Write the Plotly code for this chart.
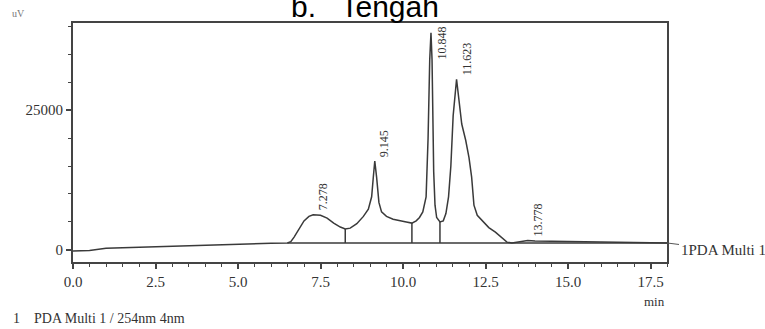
import plotly.graph_objects as go

# ---- data ----
time_min = [0.0, 0.5, 1.0, 2.0, 3.0, 4.0, 5.0, 6.0, 6.5, 6.6, 6.7, 6.85, 7.0, 7.15, 7.278,
            7.5, 7.7, 7.9, 8.1, 8.25, 8.4, 8.6, 8.8, 8.95, 9.05, 9.1, 9.145, 9.2, 9.27,
            9.35, 9.5, 9.7, 9.9, 10.1, 10.27, 10.4, 10.5, 10.6, 10.7, 10.76, 10.81, 10.848,
            10.88, 10.93, 10.97, 11.02, 11.12, 11.22, 11.3, 11.38, 11.45, 11.52, 11.623,
            11.7, 11.78, 11.9, 12.0, 12.08, 12.15, 12.25, 12.4, 12.6, 12.8, 13.0, 13.15,
            13.3, 13.5, 13.778, 14.0, 14.5, 15.0, 16.0, 17.0, 18.0]
signal_uv = [-200, -100, 300, 500, 700, 900, 1100, 1200, 1250, 1500, 2300, 3800, 5200, 6000, 6300,
             6200, 5700, 4800, 4100, 3750, 3900, 4700, 6000, 7300, 9500, 13000, 15900, 13000, 8500,
             6800, 6000, 5500, 5200, 5000, 4800, 5200, 5800, 6800, 9500, 20000, 34000, 38800,
             34000, 14000, 8000, 5800, 5000, 5200, 6500, 9500, 15000, 24000, 30500,
             26500, 22500, 19600, 16500, 13000, 8000, 6200, 5200, 4000, 3200, 2200, 1400,
             1250, 1400, 1700, 1600, 1550, 1500, 1350, 1300, 1250]

peak_times = [7.278, 9.145, 10.848, 11.623, 13.778]
peak_labels = ["7.278", "9.145", "10.848", "11.623", "13.778"]

baseline_times = [6.5, 18.0]
baseline_values = [1250, 1250]

drop_times = [8.25, 10.27, 11.12]

x_ticks = [0.0, 2.5, 5.0, 7.5, 10.0, 12.5, 15.0, 17.5]
y_ticks = [0, 25000]

# ---- figure ----
LINE = "#3a3a3a"
SERIF = "Liberation Serif"
Y_MIN, Y_MAX = -2150, 40550

fig = go.Figure()

fig.add_trace(go.Scatter(x=time_min, y=signal_uv, mode="lines",
                         line=dict(color=LINE, width=1.5), hoverinfo="skip"))
fig.add_trace(go.Scatter(x=baseline_times, y=baseline_values, mode="lines",
                         line=dict(color=LINE, width=1.5), hoverinfo="skip"))

base_level = baseline_values[0]
for t in drop_times:
    v = signal_uv[time_min.index(t)]
    fig.add_trace(go.Scatter(x=[t, t], y=[base_level, v], mode="lines",
                             line=dict(color=LINE, width=1.5), hoverinfo="skip"))

annotations = []
for t, lab in zip(peak_times, peak_labels):
    v = signal_uv[time_min.index(t)]
    if v > 0.85 * Y_MAX:
        annotations.append(dict(x=t, y=Y_MAX, xref="x", yref="y", text=lab, showarrow=False,
                                textangle=-90, xanchor="left", yanchor="top", xshift=2, yshift=-1,
                                font=dict(family=SERIF, size=12, color="#333")))
    else:
        annotations.append(dict(x=t, y=v, xref="x", yref="y", text=lab, showarrow=False,
                                textangle=-90, xanchor="left", yanchor="bottom", xshift=1, yshift=2,
                                font=dict(family=SERIF, size=12, color="#333")))

# channel label with leader line at the right end of the trace
annotations.append(dict(x=18.0, y=base_level, xref="x", yref="y", text="1PDA Multi 1",
                        showarrow=True, arrowhead=0, arrowwidth=1, arrowcolor="#555",
                        ax=56, ay=7, xanchor="center",
                        font=dict(family=SERIF, size=15, color="#333")))

annotations += [
    dict(x=0.5, y=1.07, xref="paper", yref="paper", text="b.\u00a0\u00a0 Tengah", showarrow=False,
         xanchor="center", yanchor="middle", xshift=-5,
         font=dict(family="Liberation Sans", size=30, color="black")),
    dict(x=-0.106, y=1.04, xref="paper", yref="paper", text="uV", showarrow=False,
         xanchor="left", yanchor="middle", font=dict(family=SERIF, size=10, color="#777")),
    dict(x=1.0, y=-0.125, xref="paper", yref="paper", text="min", showarrow=False,
         xanchor="right", yanchor="top", font=dict(family=SERIF, size=13, color="#333")),
    dict(x=-0.105, y=-0.195, xref="paper", yref="paper",
         text="1\u00a0\u00a0\u00a0 PDA Multi 1 / 254nm 4nm", showarrow=False,
         xanchor="left", yanchor="top", font=dict(family=SERIF, size=14, color="#333")),
]

fig.update_layout(
    width=765, height=329,
    margin=dict(l=73, r=98, t=23, b=67),
    paper_bgcolor="white", plot_bgcolor="white",
    showlegend=False,
    annotations=annotations,
    xaxis=dict(range=[0, 18], tickvals=x_ticks, tickformat=".1f",
               showgrid=False, zeroline=False,
               showline=True, linecolor="#444", linewidth=2, mirror=True,
               ticks="outside", ticklen=5, tickcolor="#444", tickwidth=1.5,
               minor=dict(dtick=0.5, ticks="outside", ticklen=3, tickcolor="#444", tickwidth=1.2),
               tickfont=dict(family=SERIF, size=15, color="#333")),
    yaxis=dict(range=[Y_MIN, Y_MAX], tickvals=y_ticks, tickformat="d",
               showgrid=False, zeroline=False,
               showline=True, linecolor="#444", linewidth=2, mirror=True,
               ticks="outside", ticklen=5, tickcolor="#444", tickwidth=1.5,
               minor=dict(dtick=5000, ticks="outside", ticklen=3, tickcolor="#444", tickwidth=1.2),
               tickfont=dict(family=SERIF, size=15, color="#333")),
)

fig.write_html("out.html")
